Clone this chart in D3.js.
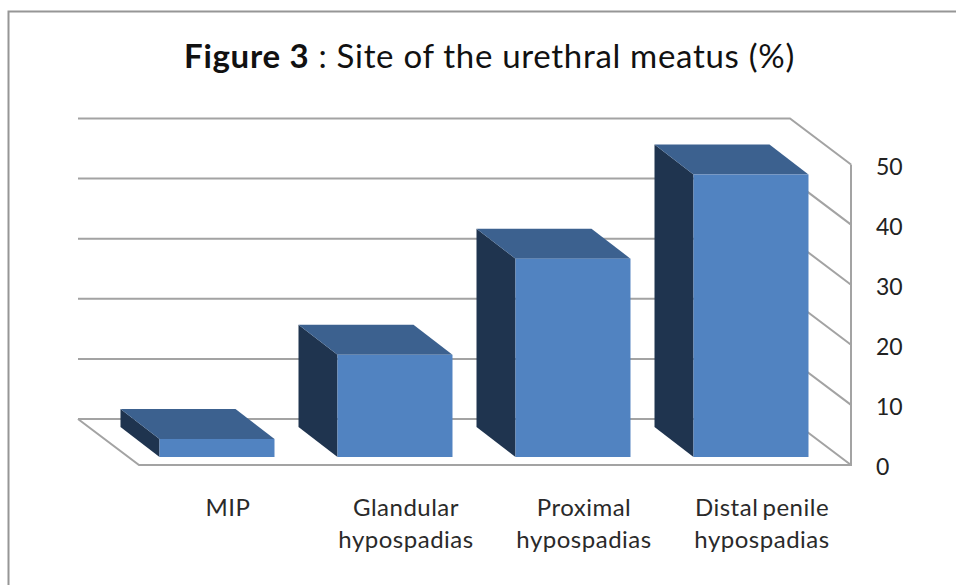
<!DOCTYPE html>
<html>
<head>
<meta charset="utf-8">
<script src="https://cdn.jsdelivr.net/npm/d3@7"></script>
<style>
  body { margin: 0; background: #fff; }
  text { font-family: Lato, "Open Sans", sans-serif; }
</style>
</head>
<body>
<script>
var categories = ["MIP", "Glandular hypospadias", "Proximal hypospadias", "Distal penile hypospadias"];
var values = [3, 17, 33, 47];
var yTicks = [0, 10, 20, 30, 40, 50];

var svgWidth = 956;
var svgHeight = 585;

// front plane of the 3D box, and how far back the walls go
var plane = { left: 139, right: 851, bottom: 465, top: 164.5 };
var depth = { x: -61, y: -46 };
// bars sit inside the box: shift from the front plane, then their own depth
var barShift = { x: -11, y: -8 };
var barDepth = { x: -39, y: -30 };

var gridColor = "#a3a3a3";

var svg = d3.select("body")
  .append("svg")
  .attr("width", svgWidth)
  .attr("height", svgHeight)
  .style("display", "block");

// outer frame, open at the right and the bottom like the cropped original
svg.append("path")
  .attr("d", "M8.5,585V11.5H956")
  .attr("fill", "none")
  .attr("stroke", "#969696")
  .attr("stroke-width", 2);

var xScale = d3.scaleBand()
  .domain(categories)
  .range([plane.left, plane.right])
  .paddingInner(0.354)
  .paddingOuter(0.177);

var yScale = d3.scaleLinear()
  .domain([0, 50])
  .range([plane.bottom, plane.top]);

// Title
var title = svg.append("text")
  .attr("x", 489.5)
  .attr("y", 68)
  .attr("text-anchor", "middle")
  .style("font-size", "33px")
  .style("letter-spacing", "0.7px")
  .style("fill", "#111");
title.append("tspan").style("font-weight", "bold").text("Figure 3");
title.append("tspan").text(" : Site of the urethral meatus (%)");

// Back wall lines and their diagonals down the side wall
var grid = svg.append("g")
  .attr("fill", "none")
  .attr("stroke", gridColor)
  .attr("stroke-width", 2);

grid.selectAll(".gridline")
  .data(yTicks)
  .enter()
  .append("path")
  .attr("class", "gridline")
  .attr("d", d => `M${plane.left + depth.x},${yScale(d) + depth.y}H${plane.right + depth.x}L${plane.right},${yScale(d)}`);

// Floor and right edge
grid.append("path")
  .attr("d", `M${plane.left + depth.x},${plane.bottom + depth.y}L${plane.left},${plane.bottom}H${plane.right}V${plane.top}`);

// Bars
var bars = svg.selectAll(".bar")
  .data(categories)
  .enter()
  .append("g")
  .attr("class", "bar")
  .attr("transform", `translate(${barShift.x},${barShift.y})`);

function barTop(i) { return yScale(values[i]); }

bars.append("path")
  .attr("fill", "#1f344f")
  .attr("d", function(d, i) {
    var x = xScale(d);
    return `M${x},${plane.bottom}V${barTop(i)}l${barDepth.x},${barDepth.y}V${plane.bottom + barDepth.y}Z`;
  });

bars.append("path")
  .attr("fill", "#3c618f")
  .attr("d", function(d, i) {
    var x = xScale(d);
    return `M${x},${barTop(i)}l${barDepth.x},${barDepth.y}h${xScale.bandwidth()}l${-barDepth.x},${-barDepth.y}Z`;
  });

bars.append("rect")
  .attr("fill", "#5183c1")
  .attr("x", d => xScale(d))
  .attr("y", (d, i) => barTop(i))
  .attr("width", xScale.bandwidth())
  .attr("height", (d, i) => plane.bottom - barTop(i));

// Value axis, labels only
var yAxis = svg.append("g")
  .attr("transform", `translate(${plane.right}, 0)`)
  .call(d3.axisRight(yScale).tickValues(yTicks).tickSize(0).tickPadding(25));
yAxis.select(".domain").remove();
yAxis.selectAll("text")
  .attr("dy", "0.42em")
  .style("font-family", "Lato")
  .style("font-size", "23px")
  .style("fill", "#222");

// Category axis, labels wrapped on two lines
var xAxis = svg.append("g")
  .attr("transform", `translate(0, ${plane.bottom})`)
  .call(d3.axisBottom(xScale).tickSize(0));
xAxis.select(".domain").remove();
xAxis.selectAll("text").each(function(d) {
  var words = d.split(" ");
  var second = words.pop();
  var lines = words.length ? [words.join(" "), second] : [second];
  var label = d3.select(this).text(null).attr("y", 0).attr("dy", null);
  lines.forEach(function(line, i) {
    label.append("tspan")
      .attr("x", 0)
      .attr("y", 51 + i * 32)
      .text(line);
  });
})
  .style("font-family", "Lato")
  .style("font-size", "24px")
  .style("letter-spacing", "0.5px")
  .style("word-spacing", "-2.5px")
  .style("fill", "#2a2a2a");
</script>
</body>
</html>
